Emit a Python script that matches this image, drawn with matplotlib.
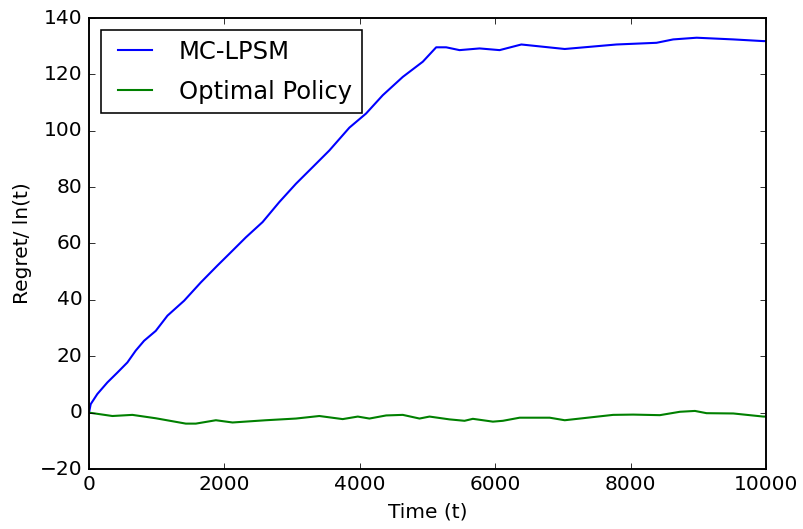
import numpy as np
import matplotlib
matplotlib.use('Agg')
import matplotlib.pyplot as plt

plt.style.use('classic')
plt.rcParams['font.size'] = 12.6
plt.rcParams['axes.linewidth'] = 1.2

# values
t_lpsm = [0, 25, 123, 271, 419, 567, 690, 814, 986, 1159, 1405, 1652, 1898,
          2071, 2318, 2564, 2811, 3057, 3304, 3550, 3846, 4092, 4339, 4635,
          4931, 5128, 5276, 5473, 5769, 6065, 6386, 7027, 7791, 8383, 8629,
          8975, 9517, 9960, 10000]
regret_lpsm = [0, 3, 6.6, 10.7, 14.2, 17.8, 22, 25.5, 29, 34.4, 39.7, 46.2,
               52.2, 56.3, 62.2, 67.6, 74.7, 81.2, 87.1, 93, 101.1, 106.1,
               112.6, 119.1, 124.5, 129.6, 129.6, 128.6, 129.2, 128.6, 130.6,
               129, 130.6, 131.2, 132.4, 133, 132.4, 131.8, 131.8]

t_opt = [0, 345, 641, 986, 1430, 1578, 1874, 2120, 2613, 3057, 3402, 3747,
         3970, 4142, 4389, 4635, 4882, 5030, 5325, 5547, 5670, 5966, 6114,
         6361, 6805, 7027, 7741, 8037, 8432, 8728, 8950, 9122, 9517, 9960,
         10000]
regret_opt = [0, -1.2, -0.8, -2, -3.9, -3.9, -2.7, -3.5, -2.7, -2.1, -1.2,
              -2.3, -1.4, -2.1, -1, -0.8, -2.1, -1.4, -2.4, -2.9, -2.2, -3.2,
              -2.9, -1.8, -1.8, -2.7, -0.8, -0.7, -0.9, 0.3, 0.6, -0.2, -0.3,
              -1.4, -1.4]

dpi = 115
fig = plt.figure(figsize=(803.01 / dpi, 529.01 / dpi), dpi=dpi, facecolor='white')
ax = fig.add_axes([89 / 803, 60 / 529, 677 / 803, 451 / 529])

ax.plot(t_lpsm, regret_lpsm, color='b', lw=1.3, label='MC-LPSM')
ax.plot(t_opt, regret_opt, color='g', lw=1.3, label='Optimal Policy')

ax.set_xlim(0, 10000)
ax.set_ylim(-20, 140)
ax.set_xticks(np.arange(0, 10001, 2000))
ax.set_yticks(np.arange(-20, 141, 20))
ax.set_xlabel('Time (t)')
ax.set_ylabel('Regret/ ln(t)')
ax.legend(loc='upper left', fontsize=15.2, handletextpad=0.8, labelspacing=0.65)

fig.savefig('out.png', dpi=dpi, facecolor='white')
